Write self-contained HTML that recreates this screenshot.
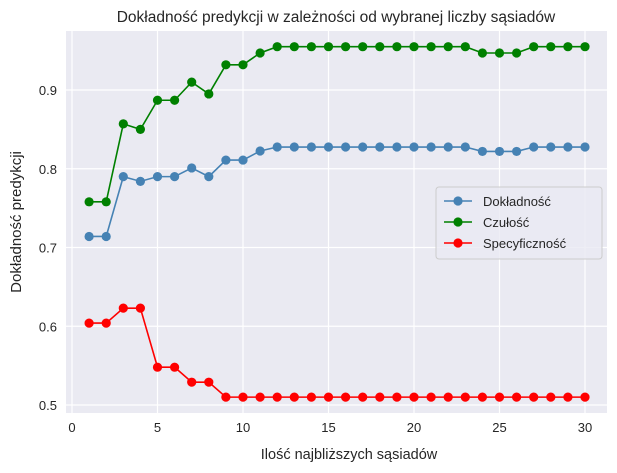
<!DOCTYPE html>
<html><head><meta charset="utf-8"><style>
body{margin:0;background:#fff;font-family:"Liberation Sans","DejaVu Sans",sans-serif}
</style></head><body>
<svg id="c" width="617" height="473" style="display:block">
<text x="336" y="22" text-anchor="middle" font-size="15.5" fill="#262626">Dokładność predykcji w zależności od wybranej liczby sąsiadów</text>
<text x="349" y="459" text-anchor="middle" font-size="14.5" fill="#262626">Ilość najbliższych sąsiadów</text>
<text transform="translate(21,222) rotate(-90)" text-anchor="middle" font-size="15" fill="#262626">Dokładność predykcji</text>
</svg>
<script>
const k = Array.from({length:30},(_, i)=>i+1);
const accuracy = [0.714,0.714,0.79,0.784,0.79,0.79,0.801,0.79,0.811,0.811,0.8225,0.8276,0.8276,0.8276,0.8276,0.8276,0.8276,0.8276,0.8276,0.8276,0.8276,0.8276,0.8276,0.822,0.822,0.822,0.8276,0.8276,0.8276,0.8276];
const recall = [0.758,0.758,0.857,0.85,0.887,0.887,0.91,0.895,0.932,0.932,0.947,0.955,0.955,0.955,0.955,0.955,0.955,0.955,0.955,0.955,0.955,0.955,0.955,0.947,0.947,0.947,0.955,0.955,0.955,0.955];
const specificity = [0.604,0.604,0.623,0.623,0.548,0.548,0.529,0.529,0.51,0.51,0.51,0.51,0.51,0.51,0.51,0.51,0.51,0.51,0.51,0.51,0.51,0.51,0.51,0.51,0.51,0.51,0.51,0.51,0.51,0.51];
const xTicks = [0,5,10,15,20,25,30];
const yTicks = [0.5,0.6,0.7,0.8,0.9];
const NS="http://www.w3.org/2000/svg", svg=document.getElementById('c');
const L=66,R=607,T=31,B=413;
const X=v=>72+v*17.1, Y=v=>405-(v-0.5)*787.5;
function mk(t,a,p){const e=document.createElementNS(NS,t);for(const q in a)e.setAttribute(q,a[q]);(p||svg).appendChild(e);return e;}
const bg=mk('rect',{x:L,y:T,width:R-L,height:B-T,fill:'#eaeaf2'});


xTicks.forEach(v=>{
  const g=mk('line',{x1:X(v),x2:X(v),y1:T,y2:B,stroke:'#fff','stroke-width':1.2});
  
  
  const t=mk('text',{x:X(v),y:B+19,'text-anchor':'middle','font-size':13,fill:'#262626'});t.textContent=v;
  
  
});
yTicks.forEach(v=>{
  const g=mk('line',{x1:L,x2:R,y1:Y(v),y2:Y(v),stroke:'#fff','stroke-width':1.2});
  
  
  const t=mk('text',{x:L-9,y:Y(v)+5,'text-anchor':'end','font-size':13,fill:'#262626'});t.textContent=v.toFixed(1);
  
  
});
const series=[[accuracy,'#4682b4','accuracy'],[recall,'#008000','recall'],[specificity,'#ff0000','specificity']];
series.forEach(([d,c,n])=>{
  const p=mk('polyline',{points:d.map((v,i)=>X(k[i])+','+Y(v)).join(' '),fill:'none',stroke:c,'stroke-width':1.6});
  
  
  d.forEach((v,i)=>{const m=mk('circle',{cx:X(k[i]),cy:Y(v),r:4.6,fill:c});
    
    });
});
const lg=mk('g',{});


mk('rect',{x:436,y:187,width:166,height:72,rx:3,fill:'#eaeaf2',stroke:'#ccc','fill-opacity':0.8},lg);
[['Dokładność','#4682b4'],['Czułość','#008000'],['Specyficzność','#ff0000']].forEach(([s,c],i)=>{
  const y=201+i*21;
  mk('line',{x1:444,x2:472,y1:y,y2:y,stroke:c,'stroke-width':1.6},lg);
  mk('circle',{cx:458,cy:y,r:4.6,fill:c},lg);
  const t=mk('text',{x:483,y:y+5,'font-size':13,fill:'#262626'},lg);t.textContent=s;
  
  
});
</script>
</body></html>
